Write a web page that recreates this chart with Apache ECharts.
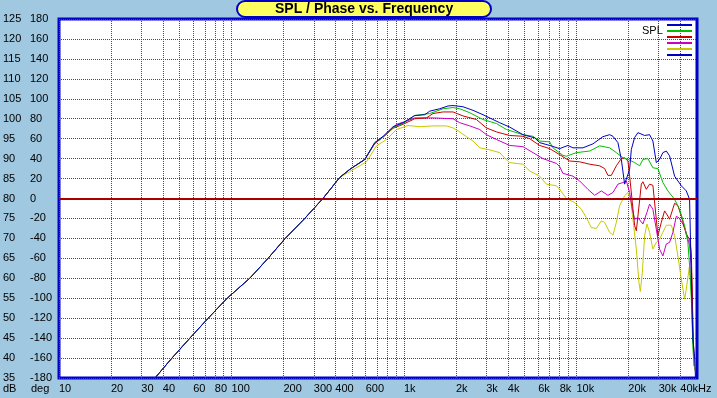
<!DOCTYPE html>
<html><head><meta charset="utf-8">
<script src="https://cdn.jsdelivr.net/npm/echarts@6/dist/echarts.min.js"></script>
<style>html,body{margin:0;padding:0;background:#A0C8E0}#c{width:717px;height:398px}</style>
</head><body><div id="c"></div>
<script>
// ---------- data ----------
const freqLabels = [10,20,30,40,60,80,100,200,300,400,600,1000,2000,3000,4000,6000,8000,10000,20000,30000,40000];
const freqGrid = [10,20,30,40,50,60,70,80,90,100,200,300,400,500,600,700,800,900,
  1000,2000,3000,4000,5000,6000,7000,8000,9000,10000,20000,30000,40000];
const lowCommon = [[36,35],[45.2,40],[57.4,45],[73.3,50],[94.4,55],[127.6,60],[163,65],[205,70],[266,75],[339,80],[425,85.3],[485,87.3]];
const blueSPL = [[593,89.8],[677,94],[757,95.6],[865,98],[988,99],[1155,100.8],[1320,101],[1411,101.9],[1612,102.5],[1801,103.2],[1925,103.3],[2200,103],[2515,102.1],[2873,101],[3589,99],[4102,97.9],[4898,96],[5726,95.2],[6122,94],[6994,93.3],[7992,92.5],[8929,93.3],[9544,92.7],[10907,92.7],[12466,93.7],[14243,95.5],[15577,96],[16277,95.6],[17398,94],[18207,89.8],[19029,83.6],[19465,84],[20341,87.3],[20809,92.3],[21746,95.3],[22725,96.5],[24850,95.8],[26560,96],[27750,94.4],[29040,89],[30340,89.8],[31710,91.5],[33190,91.9],[34670,90.7],[37070,85.6],[40540,83.2],[43330,81.9],[45290,79.8],[46320,60.7],[47320,44.8],[48400,40.3],[49000,35]];
const greenSPL = [[593,89.8],[677,94],[757,95.4],[865,97.8],[988,98.8],[1155,100.8],[1411,101.3],[1685,102.5],[1925,102.8],[2106,102.5],[2406,101.5],[2873,99.8],[3435,98.8],[3926,97.3],[4898,96],[5598,95.6],[6122,94.4],[6994,94.2],[7309,92.7],[8350,90.8],[8741,90.6],[9986,91.5],[11928,91.9],[13630,93.2],[13944,93.6],[15577,92.7],[17033,91.5],[18601,90.2],[19886,89.8],[21746,89],[23245,88.2],[24295,89.8],[25960,90],[27750,87.7],[29670,87.5],[31710,84],[33900,81.9],[37070,79.8],[39620,77.3],[42370,73.2],[44260,69],[45290,63.2],[46320,55.6],[46940,47.7],[47320,43],[48000,38]];
const redSPL = [[593,89.8],[677,93.8],[757,95.4],[865,97.6],[988,98.6],[1155,100],[1350,100.2],[1474,101.3],[1685,101.7],[1925,101.7],[2200,100.7],[2630,99.8],[3006,97.7],[3435,96.7],[4102,95.8],[4898,95.6],[5357,95],[6122,93.3],[6994,92.5],[7992,91],[9133,89.4],[10435,89.2],[11928,88.6],[13630,88.2],[14571,87.5],[15226,85.8],[15933,85.8],[17033,88.2],[18207,90],[19029,90.2],[19886,89.4],[20341,85.6],[21089,79],[21746,73.2],[22248,71.9],[22725,75.6],[23780,83.6],[24295,84.2],[25410,82.3],[26560,83.6],[27750,83.3],[29040,74.8],[29670,70.7],[31040,74],[32440,76.9],[33900,75.6],[34670,74.8],[37070,78.8],[38740,78.2],[40540,75.6],[43330,71],[45290,69.8],[46320,66.5],[46940,56.5],[47320,48.2],[48000,40]];
const magentaSPL = [[593,89.8],[677,93.8],[757,95.4],[905,98.6],[1034,99.4],[1155,100.2],[1474,100.2],[1925,100],[2106,99],[2406,98.2],[2749,97.3],[3006,96],[3435,94.8],[4102,93.3],[4898,93],[5598,91.5],[6396,90],[7647,88.8],[7992,88],[8350,86.3],[9544,85.6],[10435,84.4],[11660,82.3],[12751,80.8],[13944,81.9],[15226,80.8],[16277,81.5],[17398,83.6],[18601,84],[19465,84.4],[20341,81.5],[21089,77.3],[21746,74.8],[22725,75.2],[24295,73.6],[25620,76.5],[26560,78.6],[27750,77.3],[29040,72.3],[30340,67.3],[31710,65.6],[33190,68.6],[34670,69],[36240,71.5],[37920,75.5],[39260,75.2],[41410,73.6],[43330,71.5],[45290,68.2],[46320,63.2],[46940,56],[47320,48],[48000,40]];
const yellowSPL = [[606,89.2],[693,93.2],[792,94.8],[905,97.3],[1056,98.3],[1235,98],[1474,98.2],[1763,98.2],[1925,97.7],[2106,96.7],[2302,95.5],[2515,94.4],[2749,92.7],[3142,92.2],[3589,91.5],[3926,89.7],[4102,89],[4898,88.6],[5357,86.9],[6122,85.6],[6693,83.6],[7647,83.2],[7992,82.3],[8741,80],[9762,79],[10675,77.3],[11414,75.2],[12202,72.7],[13044,72.5],[13944,74.4],[14571,74],[15577,71.5],[16277,70.8],[17033,74],[17799,78.2],[19029,80.7],[19886,81.5],[20614,79.8],[21260,74.8],[22248,67.3],[23031,59],[23465,56.7],[24100,61.5],[24850,70.7],[25620,73.6],[26560,71.5],[27750,67.3],[29040,69],[30340,69.8],[31710,71.5],[33190,73.3],[35470,73.3],[37070,70.7],[38740,65.6],[40540,59.8],[42370,54.8],[43330,57.3],[45290,63.2],[46320,55.6],[47320,44.8],[48400,36.9]];
const phaseTrace = [];
const seriesNames = ['SPL 1','SPL 2','SPL 3','SPL 4','SPL 5','SPL 6'];
const seriesColors = ['#0000C0','#00BE00','#C80000','#C800C8','#C8C800','#0000C0'];

// ---------- chart ----------
const FONT = '"Liberation Sans", Arial, sans-serif';
const chart = echarts.init(document.getElementById('c'));
const seriesData = [lowCommon.concat(blueSPL), lowCommon.concat(greenSPL), lowCommon.concat(redSPL),
                    lowCommon.concat(magentaSPL), lowCommon.slice(0,11).concat(yellowSPL), phaseTrace];
// draw order: yellow at bottom, blue on top
const order = [4,3,2,1,0,5];
const series = order.map(i => ({
  name: seriesNames[i], type: 'line', data: seriesData[i], showSymbol: false, symbol: 'none',
  color: seriesColors[i], lineStyle: { width: 1, color: seriesColors[i] }, animation: false,
  xAxisIndex: 0, yAxisIndex: 0
}));
series[0].markLine = {
  silent: true, symbol: 'none', animation: false, label: { show: false },
  lineStyle: { color: '#A80000', width: 2, type: 'solid' },
  data: [{ yAxis: 80 }]
};

chart.setOption({
  backgroundColor: '#A0C8E0',
  animation: false,
  title: [
    { text: 'SPL / Phase vs. Frequency', left: 237, top: 1, padding: [0, 38],
      backgroundColor: '#FFFF60', borderColor: '#0000C8', borderWidth: 2, borderRadius: 8,
      textStyle: { fontFamily: FONT, fontSize: 14, fontWeight: 'bold', color: '#000', lineHeight: 16 } },
    { text: 'SPL', left: 642, top: 25, padding: 0,
      textStyle: { fontFamily: FONT, fontSize: 11, fontWeight: 'normal', color: '#000' } },
    { text: 'dB', left: 3, top: 383, padding: 0,
      textStyle: { fontFamily: FONT, fontSize: 11, fontWeight: 'normal', color: '#000' } },
    { text: 'deg', left: 31, top: 383, padding: 0,
      textStyle: { fontFamily: FONT, fontSize: 11, fontWeight: 'normal', color: '#000' } }
  ],
  legend: {
    data: seriesNames.map(n => ({ name: n, icon: 'rect' })),
    orient: 'vertical', left: 667, top: 24, itemWidth: 25, itemHeight: 2, itemGap: 4,
    padding: 0, selectedMode: false, formatter: () => '',
    textStyle: { fontSize: 1, lineHeight: 2, padding: 0 }
  },
  grid: { left: 59, right: 20, top: 19, height: 359, show: true, backgroundColor: '#FFFFFF',
          borderColor: '#0000C8', borderWidth: 3, containLabel: false },
  xAxis: {
    type: 'log', logBase: 10, min: 10, max: 50000,
    axisLine: { show: false }, axisTick: { show: false, customValues: freqGrid },
    splitLine: { show: true, lineStyle: { color: '#008000', width: 1, type: [1, 1] } },
    minorTick: { show: false }, minorSplitLine: { show: false },
    axisLabel: { customValues: freqLabels, align: 'left', margin: 5, fontFamily: FONT, fontSize: 11, color: '#000',
      formatter: v => v >= 40000 ? '40kHz' : (v >= 1000 ? (v / 1000) + 'k' : String(v)) }
  },
  yAxis: [
    { type: 'value', min: 35, max: 125, interval: 5, position: 'left',
      axisLine: { show: false }, axisTick: { show: false },
      axisLabel: { align: 'left', margin: 56, fontFamily: FONT, fontSize: 11, color: '#000',
        padding: [0, 0, 6, 0], showMinLabel: true, showMaxLabel: true },
      splitLine: { show: true, lineStyle: { color: '#008000', width: 1, type: [1, 1] } } },
    { type: 'value', min: -180, max: 180, interval: 20, position: 'left',
      axisLine: { show: false }, axisTick: { show: false },
      axisLabel: { align: 'left', margin: 29, fontFamily: FONT, fontSize: 11, color: '#000',
        padding: [0, 0, 6, 0], showMinLabel: true, showMaxLabel: true },
      splitLine: { show: false } }
  ],
  series: series
});
</script></body></html>
